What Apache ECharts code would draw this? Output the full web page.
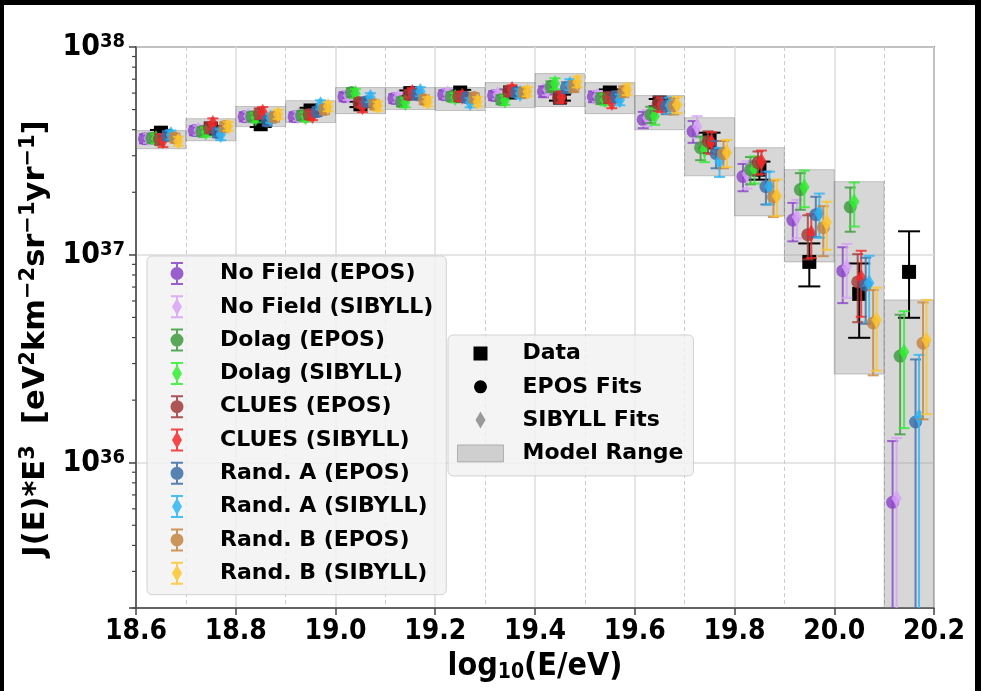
<!DOCTYPE html>
<html>
<head>
<meta charset="utf-8">
<script src="https://cdn.jsdelivr.net/npm/echarts@6/dist/echarts.min.js"></script>
<style>
html,body{margin:0;padding:0;background:#fff;}
#chart{width:981px;height:691px;}
</style>
</head>
<body>
<div id="chart"></div>
<script>
// ---------------- DATA (flux values in units of 1e37 eV^2 km^-2 sr^-1 yr^-1) ----------------
const UNIT = 1e37;
const binCenters = [18.65, 18.75, 18.85, 18.95, 19.05, 19.15, 19.25, 19.35, 19.45, 19.55, 19.65, 19.75, 19.85, 19.95, 20.05, 20.15];
const xTickValues = [18.6, 18.8, 19.0, 19.2, 19.4, 19.6, 19.8, 20.0, 20.2];
const yTickLabels = ['10^36', '10^37', '10^38'];

// Measured data
const dataFlux    = [3.87, 4.05, 4.25, 4.95, 5.30, 6.00, 6.04, 6.04, 5.71, 6.04, 5.40, 3.55, 2.57, 0.925, 0.649, 0.828];
const dataErrLow  = [0.12, 0.12, 0.13, 0.15, 0.16, 0.18, 0.18, 0.19, 0.19, 0.21, 0.22, 0.30, 0.27, 0.22, 0.25, 0.33];
const dataErrHigh = [0.12, 0.12, 0.13, 0.15, 0.16, 0.18, 0.18, 0.19, 0.19, 0.21, 0.22, 0.32, 0.24, 0.21, 0.26, 0.47];

// Model range (grey boxes)
const rangeLow  = [3.24, 3.54, 4.14, 4.33, 4.78, 5.00, 4.95, 5.11, 5.17, 4.78, 4.00, 2.40, 1.54, 0.925, 0.267, 0.01];
const rangeHigh = [3.96, 4.52, 5.17, 5.52, 6.38, 6.38, 6.38, 6.74, 7.45, 6.74, 5.84, 4.57, 3.28, 2.57, 2.25, 0.607];

// Model fits
const noFieldEPOS    = [3.62, 3.96, 4.62, 4.62, 5.77, 5.65, 5.90, 5.84, 6.10, 5.77, 4.47, 3.93, 2.38, 1.47, 0.837, 0.0645];
const noFieldSIBYLL  = [3.64, 3.98, 4.64, 4.65, 5.85, 5.70, 5.95, 5.90, 6.24, 5.80, 4.57, 4.15, 2.45, 1.52, 0.875, 0.0674];
const dolagEPOS      = [3.64, 3.92, 4.62, 4.68, 6.04, 5.45, 5.77, 5.58, 6.45, 5.65, 4.73, 3.28, 2.57, 2.06, 1.70, 0.326];
const dolagSIBYLL    = [3.62, 3.90, 4.57, 4.62, 5.97, 5.40, 5.71, 5.55, 6.67, 5.58, 4.64, 3.21, 2.59, 2.12, 1.80, 0.341];
const cluesEPOS      = [3.60, 4.09, 4.78, 4.73, 5.40, 5.90, 5.77, 6.10, 5.71, 5.71, 5.34, 3.51, 2.78, 1.25, 0.741, null];
const cluesSIBYLL    = [3.55, 4.28, 4.85, 4.68, 5.17, 6.04, 5.80, 6.24, 5.75, 5.40, 5.28, 3.47, 2.81, 1.27, 0.775, null];
const randAEPOS      = [3.75, 3.87, 4.40, 4.89, 5.46, 5.90, 5.71, 6.04, 6.38, 5.77, 5.22, 3.07, 2.13, 1.56, 0.717, 0.157];
const randASIBYLL    = [3.78, 3.79, 4.55, 5.28, 5.71, 6.10, 5.40, 5.97, 6.60, 5.58, 5.25, 2.82, 2.13, 1.59, 0.733, 0.166];
const randBEPOS      = [3.65, 4.14, 4.60, 5.00, 5.28, 5.58, 5.71, 6.04, 6.45, 6.10, 5.20, 3.07, 1.90, 1.35, 0.470, 0.376];
const randBSIBYLL    = [3.52, 4.16, 4.75, 5.17, 5.20, 5.46, 5.46, 6.10, 6.80, 6.24, 5.28, 3.11, 1.92, 1.43, 0.486, 0.389];

// Relative (fractional) uncertainties of the fits
const noFieldEPOSErr   = [0.05, 0.05, 0.05, 0.05, 0.05, 0.05, 0.05, 0.05, 0.06, 0.06, 0.09, 0.12, 0.15, 0.21, 0.30, 0.97];
const noFieldSIBYLLErr = [0.05, 0.05, 0.05, 0.05, 0.05, 0.05, 0.05, 0.05, 0.06, 0.06, 0.09, 0.12, 0.15, 0.21, 0.29, 0.95];
const dolagEPOSErr     = [0.05, 0.05, 0.05, 0.05, 0.05, 0.05, 0.05, 0.05, 0.06, 0.06, 0.09, 0.13, 0.15, 0.20, 0.24, 0.58];
const dolagSIBYLLErr   = [0.05, 0.05, 0.05, 0.05, 0.05, 0.05, 0.05, 0.05, 0.06, 0.06, 0.09, 0.13, 0.15, 0.20, 0.24, 0.57];
const cluesEPOSErr     = [0.06, 0.06, 0.06, 0.05, 0.05, 0.05, 0.05, 0.05, 0.06, 0.06, 0.08, 0.12, 0.13, 0.24, 0.36, 0];
const cluesSIBYLLErr   = [0.07, 0.06, 0.06, 0.05, 0.06, 0.05, 0.05, 0.05, 0.06, 0.06, 0.08, 0.12, 0.13, 0.24, 0.35, 0];
const randAEPOSErr     = [0.05, 0.05, 0.05, 0.05, 0.05, 0.05, 0.05, 0.05, 0.06, 0.06, 0.09, 0.15, 0.18, 0.22, 0.35, 1.00];
const randASIBYLLErr   = [0.05, 0.06, 0.05, 0.05, 0.05, 0.05, 0.05, 0.05, 0.06, 0.06, 0.09, 0.16, 0.18, 0.24, 0.35, 0.99];
const randBEPOSErr     = [0.05, 0.05, 0.05, 0.05, 0.05, 0.05, 0.05, 0.05, 0.06, 0.06, 0.09, 0.15, 0.20, 0.27, 0.44, 0.57];
const randBSIBYLLErr   = [0.05, 0.05, 0.05, 0.05, 0.05, 0.05, 0.05, 0.05, 0.06, 0.06, 0.09, 0.15, 0.20, 0.26, 0.43, 0.56];

// ---------------- STYLE / LAYOUT ----------------
const FONT = 'DejaVu Sans';
const COND = "'DejaVu Sans Condensed', 'DejaVu Sans'";
const yMin = 2e35, yMax = 1e38;
const binHalf = 0.05;

const models = [
  {name: 'No Field (EPOS)',   vals: noFieldEPOS,   err: noFieldEPOSErr,   color: '#8a44c8', shape: 'circle',  dx: -0.033},
  {name: 'No Field (SIBYLL)', vals: noFieldSIBYLL, err: noFieldSIBYLLErr, color: '#d7a2f6', shape: 'diamond', dx: -0.025},
  {name: 'Dolag (EPOS)',      vals: dolagEPOS,     err: dolagEPOSErr,     color: '#3d9a3d', shape: 'circle',  dx: -0.018},
  {name: 'Dolag (SIBYLL)',    vals: dolagSIBYLL,   err: dolagSIBYLLErr,   color: '#30ee30', shape: 'diamond', dx: -0.010},
  {name: 'CLUES (EPOS)',      vals: cluesEPOS,     err: cluesEPOSErr,     color: '#a03a3a', shape: 'circle',  dx: -0.003},
  {name: 'CLUES (SIBYLL)',    vals: cluesSIBYLL,   err: cluesSIBYLLErr,   color: '#f42828', shape: 'diamond', dx: 0.004},
  {name: 'Rand. A (EPOS)',    vals: randAEPOS,     err: randAEPOSErr,     color: '#3c6da6', shape: 'circle',  dx: 0.013},
  {name: 'Rand. A (SIBYLL)',  vals: randASIBYLL,   err: randASIBYLLErr,   color: '#2ab5f6', shape: 'diamond', dx: 0.020},
  {name: 'Rand. B (EPOS)',    vals: randBEPOS,     err: randBEPOSErr,     color: '#c4843f', shape: 'circle',  dx: 0.028},
  {name: 'Rand. B (SIBYLL)',  vals: randBSIBYLL,   err: randBSIBYLLErr,   color: '#fcc62c', shape: 'diamond', dx: 0.035}
];

function clampLow(v) { return v > 0 ? v : yMin / 10; }

function renderModel(shape, color) {
  return function (params, api) {
    const x = api.value(0);
    const c = api.coord([x, api.value(1)]);
    const hi = api.coord([x, api.value(3)]);
    const lo = api.coord([x, api.value(2)]);
    const cap = 5.5;
    const ls = {stroke: color, lineWidth: 2, opacity: 0.8};
    const children = [
      {type: 'line', shape: {x1: c[0], y1: hi[1], x2: c[0], y2: lo[1]}, style: ls},
      {type: 'line', shape: {x1: c[0] - cap, y1: hi[1], x2: c[0] + cap, y2: hi[1]}, style: ls},
      {type: 'line', shape: {x1: c[0] - cap, y1: lo[1], x2: c[0] + cap, y2: lo[1]}, style: ls}
    ];
    if (shape === 'circle') {
      children.push({type: 'circle', shape: {cx: c[0], cy: c[1], r: 6.5}, style: {fill: color, opacity: 0.82}});
    } else {
      children.push({type: 'polygon', shape: {points: [[c[0], c[1] - 8.5], [c[0] + 5.2, c[1]], [c[0], c[1] + 8.5], [c[0] - 5.2, c[1]]]}, style: {fill: color, opacity: 0.82}});
    }
    return {type: 'group', children: children};
  };
}

function renderData(params, api) {
  const x = api.value(0);
  const c = api.coord([x, api.value(1)]);
  const hi = api.coord([x, api.value(3)]);
  const lo = api.coord([x, api.value(2)]);
  const cap = 11, s = 14;
  const ls = {stroke: '#000', lineWidth: 2};
  return {type: 'group', children: [
    {type: 'line', shape: {x1: c[0], y1: hi[1], x2: c[0], y2: lo[1]}, style: ls},
    {type: 'line', shape: {x1: c[0] - cap, y1: hi[1], x2: c[0] + cap, y2: hi[1]}, style: ls},
    {type: 'line', shape: {x1: c[0] - cap, y1: lo[1], x2: c[0] + cap, y2: lo[1]}, style: ls},
    {type: 'rect', shape: {x: c[0] - s / 2, y: c[1] - s / 2, width: s, height: s}, style: {fill: '#000'}}
  ]};
}

function renderRange(params, api) {
  const p1 = api.coord([api.value(0), api.value(3)]);
  const p2 = api.coord([api.value(1), api.value(2)]);
  return {type: 'rect', shape: {x: p1[0], y: p1[1], width: p2[0] - p1[0], height: p2[1] - p1[1]},
          style: {fill: 'rgba(140,140,140,0.35)', stroke: 'rgba(110,110,110,0.35)', lineWidth: 1}};
}

// minor log ticks on y axis
const minorTickVals = [];
for (let e = 35; e <= 37; e++) {
  for (let m = 2; m <= 9; m++) {
    const v = m * Math.pow(10, e);
    if (v >= yMin && v <= yMax) minorTickVals.push([xTickValues[0], v]);
  }
}

const series = [];
series.push({
  name: 'Model Range', type: 'custom', z: 2, clip: true,
  itemStyle: {color: '#cfcfcf'},
  encode: {x: [0, 1], y: [2, 3]},
  data: binCenters.map((c, i) => [c - binHalf, c + binHalf, Math.max(rangeLow[i], 0.001) * UNIT, rangeHigh[i] * UNIT]),
  renderItem: renderRange
});
series.push({
  name: 'Data', type: 'custom', z: 3, clip: true,
  itemStyle: {color: '#000'},
  encode: {x: 0, y: 1},
  data: binCenters.map((c, i) => [c, dataFlux[i] * UNIT, clampLow((dataFlux[i] - dataErrLow[i]) * UNIT), (dataFlux[i] + dataErrHigh[i]) * UNIT]),
  renderItem: renderData
});
models.forEach(m => {
  const data = [];
  binCenters.forEach((c, i) => {
    const v = m.vals[i];
    if (v === null || v === undefined) return;
    const e = v * m.err[i];
    data.push([c + m.dx, v * UNIT, clampLow((v - e) * UNIT), (v + e) * UNIT]);
  });
  series.push({
    name: m.name, type: 'custom', z: 3, clip: true,
    itemStyle: {color: m.color},
    encode: {x: 0, y: 1},
    data: data,
    renderItem: renderModel(m.shape, m.color)
  });
});
series.push({name: 'EPOS Fits', type: 'custom', itemStyle: {color: '#000'}, data: [], renderItem: () => null});
series.push({name: 'SIBYLL Fits', type: 'custom', itemStyle: {color: '#999'}, data: [], renderItem: () => null});
series.push({
  name: 'minorTicks', type: 'custom', z: 5, clip: false, silent: true,
  encode: {x: 0, y: 1},
  data: minorTickVals,
  renderItem: function (params, api) {
    const p = api.coord([api.value(0), api.value(1)]);
    return {type: 'line', shape: {x1: p[0] - 4, y1: p[1], x2: p[0], y2: p[1]}, style: {stroke: '#444', lineWidth: 1.2}};
  }
});

// legend icons (paths include invisible corner specks so the icon box maps 1:1)
const pad1 = 'M0 0L0.01 0L0 0.01Z M28 24L27.99 24L28 23.99Z ';
const errBar1 = 'M8 0.5H20V2.5H8Z M13 0.5H15V23.5H13Z M8 21.5H20V23.5H8Z ';
const iconCircleErr = 'path://' + pad1 + errBar1 + 'M7.5 12A6.5 6.5 0 1 1 20.5 12A6.5 6.5 0 1 1 7.5 12Z';
const iconDiamondErr = 'path://' + pad1 + errBar1 + 'M14 3.5L19 12L14 20.5L9 12Z';
const pad2 = 'M0 0L0.01 0L0 0.01Z M46 17L45.99 17L46 16.99Z ';
const iconSquare = 'path://' + pad2 + 'M16 1.5H30V15.5H16Z';
const iconCircle = 'path://' + pad2 + 'M16.5 8.5A6.5 6.5 0 1 1 29.5 8.5A6.5 6.5 0 1 1 16.5 8.5Z';
const iconDiamond = 'path://' + pad2 + 'M23 0L28 8.5L23 17L18 8.5Z';

const legendBase = {
  orient: 'vertical', z: 10,
  backgroundColor: 'rgba(242,242,242,0.82)',
  borderColor: 'rgba(205,205,205,0.9)', borderWidth: 1, borderRadius: 5,
  itemStyle: {borderWidth: 0}
};

const option = {
  animation: false,
  backgroundColor: '#ffffff',
  grid: {left: 136, right: 47, top: 47, bottom: 83, containLabel: false, outerBoundsMode: 'none',
         show: true, borderColor: '#444', borderWidth: 1.5, backgroundColor: 'transparent'},
  xAxis: {
    type: 'value', min: 18.6, max: 20.2, interval: 0.2,
    axisLine: {show: true, onZero: false, lineStyle: {color: '#444', width: 1.5}},
    axisTick: {show: true, length: 7, lineStyle: {color: '#444', width: 1.5}},
    axisLabel: {fontFamily: COND, fontWeight: 'bold', fontSize: 28, color: '#000', margin: 10,
                formatter: v => v.toFixed(1)},
    splitLine: {show: true, lineStyle: {color: '#dcdcdc', width: 1.5}},
    minorTick: {show: false, splitNumber: 2},
    minorSplitLine: {show: true, lineStyle: {color: '#cccccc', width: 1, type: [4, 3]}},
    name: '{b|log}{sub|10}{b|(E/eV)}',
    nameLocation: 'middle', nameGap: 42,
    nameTextStyle: {rich: {
      b: {fontFamily: COND, fontWeight: 'bold', fontSize: 32, color: '#000', lineHeight: 32},
      sub: {fontFamily: COND, fontWeight: 'bold', fontSize: 21, color: '#000', lineHeight: 21, verticalAlign: 'bottom'}
    }}
  },
  yAxis: {
    type: 'log', logBase: 10, min: yMin, max: yMax,
    axisLine: {show: true, lineStyle: {color: '#444', width: 1.5}},
    axisTick: {show: true, length: 7, lineStyle: {color: '#444', width: 1.5}},
    axisLabel: {
      margin: 11,
      formatter: function (v) {
        const e = Math.log10(v);
        const r = Math.round(e);
        if (Math.abs(e - r) > 1e-6) return '';
        const lbl = yTickLabels.find(t => t === '10^' + r);
        if (!lbl) return '';
        const parts = lbl.split('^');
        return '{b|' + parts[0] + '}{s|' + parts[1] + '}';
      },
      rich: {
        b: {fontFamily: COND, fontWeight: 'bold', fontSize: 30, color: '#000', lineHeight: 30},
        s: {fontFamily: COND, fontWeight: 'bold', fontSize: 20, color: '#000', lineHeight: 18, verticalAlign: 'top'}
      }
    },
    splitLine: {show: true, lineStyle: {color: '#dcdcdc', width: 1.5}},
    name: '{b|J(E)*E}{s|3}{b|  [eV}{s|2}{b|km}{s|−2}{b|sr}{s|−1}{b|yr}{s|−1}{b|]}',
    nameLocation: 'middle', nameGap: 80, nameRotate: 90,
    nameTextStyle: {padding: [0, 22, 0, 0], rich: {
      b: {fontFamily: FONT, fontWeight: 'bold', fontSize: 30.5, color: '#000', lineHeight: 36},
      s: {fontFamily: FONT, fontWeight: 'bold', fontSize: 21, color: '#000', lineHeight: 20, verticalAlign: 'top'}
    }}
  },
  legend: [
    Object.assign({}, legendBase, {
      left: 147, top: 256,
      padding: [5.5, 13, 9.5, 16],
      itemWidth: 28, itemHeight: 24, itemGap: 9.3,
      textStyle: {fontFamily: FONT, fontWeight: 'bold', fontSize: 22, color: '#000', lineHeight: 24, padding: [0, 0, 0, 24]},
      data: models.map(m => ({name: m.name, icon: m.shape === 'circle' ? iconCircleErr : iconDiamondErr,
                              itemStyle: {color: m.color, opacity: 0.85, borderWidth: 0}}))
    }),
    Object.assign({}, legendBase, {
      left: 448, top: 335,
      padding: [7, 10, 11, 9],
      itemWidth: 46, itemHeight: 17, itemGap: 10.3,
      textStyle: {fontFamily: FONT, fontWeight: 'bold', fontSize: 22, color: '#000', lineHeight: 23, padding: [0, 0, 0, 14]},
      data: [
        {name: 'Data', icon: iconSquare, itemStyle: {color: '#000', borderWidth: 0}},
        {name: 'EPOS Fits', icon: iconCircle, itemStyle: {color: '#000', borderWidth: 0}},
        {name: 'SIBYLL Fits', icon: iconDiamond, itemStyle: {color: '#9a9a9a', borderWidth: 0}},
        {name: 'Model Range', icon: 'rect', itemStyle: {color: '#cfcfcf', borderColor: 'rgba(120,120,120,0.45)', borderWidth: 1}}
      ]
    })
  ],
  graphic: [
    {type: 'rect', z: 100, shape: {x: 0, y: 0, width: 981, height: 5}, style: {fill: '#000'}},
    {type: 'rect', z: 100, shape: {x: 0, y: 0, width: 4, height: 691}, style: {fill: '#000'}},
    {type: 'rect', z: 100, shape: {x: 975, y: 0, width: 6, height: 691}, style: {fill: '#000'}}
  ],
  series: series
};

const chart = echarts.init(document.getElementById('chart'), null, {renderer: 'canvas'});
chart.setOption(option);
</script>
</body>
</html>
